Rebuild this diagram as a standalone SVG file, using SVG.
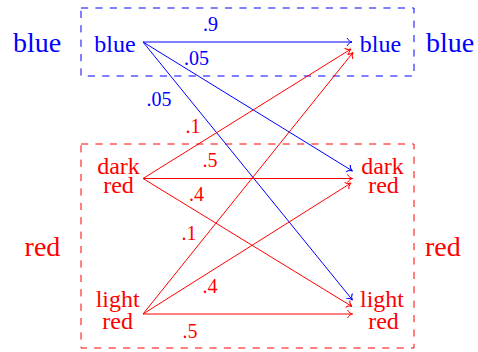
<svg xmlns="http://www.w3.org/2000/svg" width="478" height="352" viewBox="0 0 478 352" font-family="Liberation Serif, DejaVu Serif, Times New Roman, serif">
<style>
.b{fill:#0000ff}.r{fill:#ff0000}
.big{font-size:28px}.nd{font-size:24px;text-anchor:middle}.lb{font-size:20px;text-anchor:middle}
.box{fill:none;stroke-width:1;stroke-dasharray:7.2 7.2}
.eb{stroke:#0000ff;stroke-width:1;fill:none;marker-end:url(#ab)}
.er{stroke:#ff0000;stroke-width:1;fill:none;marker-end:url(#ar)}
</style>
<defs>
<marker id="ab" markerWidth="12" markerHeight="12" refX="0" refY="0" viewBox="-7 -6 8 12" orient="auto" markerUnits="userSpaceOnUse" overflow="visible">
<path d="M-5,-4 C-4,-1.5 -1.2,-0.3 0,0 C-1.2,0.3 -4,1.5 -5,4" fill="none" stroke="#0000ff" stroke-width="1"/>
</marker>
<marker id="ar" markerWidth="12" markerHeight="12" refX="0" refY="0" viewBox="-7 -6 8 12" orient="auto" markerUnits="userSpaceOnUse" overflow="visible">
<path d="M-5,-4 C-4,-1.5 -1.2,-0.3 0,0 C-1.2,0.3 -4,1.5 -5,4" fill="none" stroke="#ff0000" stroke-width="1"/>
</marker>
</defs>
<g id="group-blue">
<rect class="box" x="81" y="8" width="333" height="68" stroke="#0000ff"/>
<text class="b big" x="37" y="52" text-anchor="middle">blue</text>
<text class="b big" x="426" y="52">blue</text>
</g>
<g id="group-red">
<rect class="box" x="81" y="144" width="333" height="204" stroke="#ff0000"/>
<text class="r big" x="42.5" y="256" text-anchor="middle">red</text>
<text class="r big" x="425" y="256">red</text>
</g>
<g id="edges">
<path class="eb" d="M143,42 L352,42"/>
<path class="eb" d="M143,42 L352.5,171"/>
<path class="eb" d="M143,42 L352.5,300"/>
<path class="er" d="M143,178.5 L351,49"/>
<path class="er" d="M143,178.5 L352.5,178.5"/>
<path class="er" d="M143,178.5 L352,306.5"/>
<path class="er" d="M143,314 L353,52.5"/>
<path class="er" d="M143,314 L351,183"/>
<path class="er" d="M143,314 L352.5,314"/>
<text class="b lb" x="210.5" y="30.5">.9</text>
<text class="b lb" x="196.5" y="65">.05</text>
<text class="b lb" x="159" y="106">.05</text>
<text class="r lb" x="193" y="132.5">.1</text>
<text class="r lb" x="210" y="166.5">.5</text>
<text class="r lb" x="196.5" y="200.5">.4</text>
<text class="r lb" x="189" y="240">.1</text>
<text class="r lb" x="210" y="293">.4</text>
<text class="r lb" x="190" y="338">.5</text>
</g>
<g id="n-blue-src"><text class="b nd" x="115" y="52">blue</text></g>
<g id="n-dark-src"><text class="r nd" x="118.5" y="173.5">dark</text><text class="r nd" x="118.5" y="192.5">red</text></g>
<g id="n-light-src"><text class="r nd" x="117.7" y="306.5">light</text><text class="r nd" x="117.7" y="329">red</text></g>
<g id="n-blue-dst"><text class="b nd" x="380.5" y="52">blue</text></g>
<g id="n-dark-dst"><text class="r nd" x="382.5" y="173.5">dark</text><text class="r nd" x="383.5" y="192.5">red</text></g>
<g id="n-light-dst"><text class="r nd" x="382" y="306.5">light</text><text class="r nd" x="383.5" y="329">red</text></g>
</svg>
